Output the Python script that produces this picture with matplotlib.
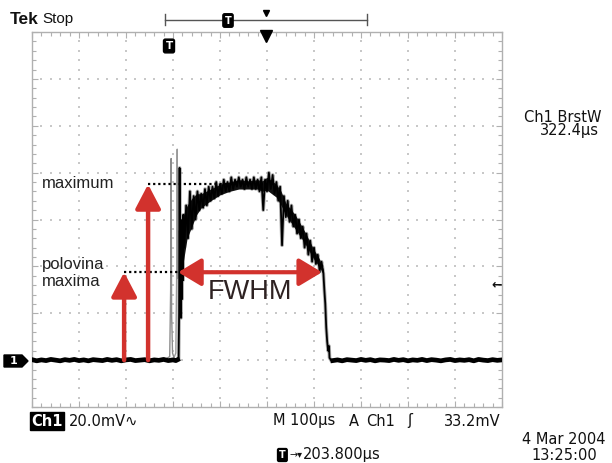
import matplotlib
matplotlib.use("Agg")
import matplotlib.pyplot as plt
from matplotlib.patches import Polygon

# ---------------- data (time in µs, signal in mV above ground) ----------------
base_pre_t = [0, 10, 20, 30, 40, 50, 60, 70, 80, 90, 100, 110, 120, 130, 140,
              150, 160, 170, 180, 190, 200, 210, 220, 230, 240, 250, 260, 270, 280, 290, 300, 306, 310]
base_pre_v = [0.2, -0.3, 0.1, -0.2, 0.3, 0.0, -0.3, 0.2, -0.1, 0.3, -0.2, 0.1, -0.3, 0.2, 0.0,
              -0.2, 0.3, -0.1, 0.2, -0.3, 0.1, 0.3, -0.2, 0.0, 0.2, -0.3, 0.1, -0.1, 0.3, -0.2, 0.1, -0.2, 0.2]

rise_t = [312, 313, 314, 315, 316, 317, 318, 319, 320, 321, 322]
rise_v = [1.0, 20.0, 82.0, 30.0, 45.0, 18.0, 55.0, 26.0, 60.0, 34.0, 62.0]

body_t = [324, 328, 332, 336, 340, 344, 348, 352, 356, 360, 364, 368, 372, 376, 380,
          384, 388, 392, 396, 400, 404, 408, 412, 416, 420, 424, 428, 432, 436, 440,
          444, 448, 452, 456, 460, 464, 468, 472, 476, 480, 484, 488, 492, 496, 500,
          504, 508, 512, 516, 520, 524, 528, 532, 536, 540, 544, 548, 552, 556, 560,
          564, 568, 572, 576, 580, 584, 588, 592, 596, 600, 604, 608, 612, 616, 620,
          622, 624, 626, 628, 630, 632, 633, 636]
body_v = [48, 66, 52, 72, 56, 70, 60, 72, 64, 71, 65, 73, 66, 74, 68,
          74, 69, 76, 70, 75, 71, 77, 72, 76, 72, 78, 73, 77, 74, 78,
          74, 77, 73, 78, 74, 77, 73, 78, 73, 77, 72, 78, 64, 77, 72,
          80, 73, 79, 71, 76, 68, 74, 49, 70, 61, 68, 59, 66, 57, 62,
          54, 60, 52, 57, 48, 54, 45, 51, 42, 48, 41, 45, 38, 42, 37,
          30, 24, 14, 8, 4, 6, 1, 0]

# dense noise band of the trace (upper / lower edge)
band_t = [322, 330, 340, 350, 360, 380, 400, 420, 440, 460, 480, 490, 500, 520, 530,
          540, 560, 580, 600, 612, 620]
band_hi = [62, 66, 69, 71, 71, 73, 75, 76, 77, 76.5, 77, 76.5, 78, 75, 72,
           67, 62, 55, 47, 43, 38.5]
band_lo = [42, 52, 57, 62, 65, 68, 70.5, 72, 73, 73, 73, 72, 72.5, 69.5, 66,
           62, 56, 50, 43, 39.5, 36.5]

base_post_t = [640, 650, 660, 670, 680, 690, 700, 710, 720, 730, 740, 750, 760, 770, 780,
               790, 800, 810, 820, 830, 840, 850, 860, 870, 880, 890, 900, 910, 920, 930,
               940, 950, 960, 970, 980, 990, 1000]
base_post_v = [-0.2, 0.1, -0.3, 0.2, 0.0, -0.2, 0.3, -0.1, 0.2, -0.3, 0.1, 0.0, -0.2, 0.3, -0.1,
               0.2, -0.3, 0.1, -0.1, 0.3, -0.2, 0.2, 0.0, -0.3, 0.1, 0.3, -0.2, 0.1, -0.1, 0.2,
               -0.3, 0.3, 0.0, -0.2, 0.2, -0.1, 0.1]

ghost_a_t = [280, 293, 295, 296, 297, 299, 304]
ghost_a_v = [0.0, 1.5, 30.0, 86.0, 20.0, 3.0, 0.0]
ghost_b_t = [300, 306, 308, 309, 310, 312, 316, 320]
ghost_b_v = [0.0, 3.0, 40.0, 90.0, 35.0, 55.0, 40.0, 62.0]

max_level = 75.0
half_level = max_level / 2
arrow_half_t = 196
arrow_max_t = 247
max_line_end_t = 517
fwhm_start_t = 311
fwhm_end_t = 617

RED = "#d2322d"

fig = plt.figure(figsize=(6.12, 4.63), dpi=100)
fig.patch.set_facecolor("white")

ax = fig.add_axes([32 / 612, 56 / 463, 470 / 612, 375 / 463])
ax.set_xlim(0, 1000)
ax.set_ylim(-20, 140)

# graticule frame and border ticks
for s in ax.spines.values():
    s.set_color("#b0b0b0")
    s.set_linewidth(1.0)
ax.set_xticks(range(0, 1001, 100))
ax.set_xticks(range(0, 1001, 20), minor=True)
ax.set_yticks(range(-20, 141, 20))
ax.set_yticks(range(-20, 141, 4), minor=True)
ax.tick_params(which="both", direction="in", top=True, right=True,
               labelbottom=False, labelleft=False, color="#b0b0b0", width=0.8)
ax.tick_params(which="major", length=4)
ax.tick_params(which="minor", length=3)

# dotted grid
gx, gy = [], []
for xv in range(100, 1000, 100):
    for yv in range(-16, 140, 4):
        gx.append(xv); gy.append(yv)
for yv in range(0, 140, 20):
    for xv in range(20, 1000, 20):
        gx.append(xv); gy.append(yv)
ax.scatter(gx, gy, s=1.2, marker="s", color="#c8c8c8", linewidths=0, zorder=1)

# trace
ax.plot(ghost_a_t, ghost_a_v, color="#8c8c8c", lw=1.0, zorder=2)
ax.plot(ghost_b_t, ghost_b_v, color="#9a9a9a", lw=1.0, zorder=2)
body_all_t = rise_t + body_t
body_all_v = rise_v + body_v
ax.plot(body_all_t, body_all_v, color="#7a7a7a", lw=2.6, zorder=2, alpha=0.6)
ax.fill_between(band_t, band_lo, band_hi, color="#111111", lw=0, zorder=3)
ax.plot(base_pre_t, base_pre_v, color="black", lw=3.4, zorder=3)
ax.plot(base_post_t, base_post_v, color="black", lw=3.4, zorder=3)
ax.plot([base_pre_t[-1]] + body_all_t + [base_post_t[0]],
        [base_pre_v[-1]] + body_all_v + [base_post_v[0]], color="black", lw=1.3,
        zorder=3, solid_joinstyle="round")

# dotted level lines
ax.plot([arrow_max_t, max_line_end_t], [max_level, max_level], color="black",
        lw=1.6, ls=(0, (1, 1.3)), zorder=4)
ax.plot([arrow_half_t, fwhm_end_t], [half_level, half_level], color="black",
        lw=1.6, ls=(0, (1, 1.3)), zorder=4)

# red arrows
ax.annotate("", xy=(arrow_half_t, half_level), xytext=(arrow_half_t, 0),
            arrowprops=dict(arrowstyle="-|>,head_length=1.05,head_width=0.55", lw=3.2,
                            color=RED, shrinkA=0, shrinkB=0, mutation_scale=14),
            zorder=5)
ax.annotate("", xy=(arrow_max_t, max_level), xytext=(arrow_max_t, 0),
            arrowprops=dict(arrowstyle="-|>,head_length=1.05,head_width=0.55", lw=3.2,
                            color=RED, shrinkA=0, shrinkB=0, mutation_scale=14),
            zorder=5)
ax.annotate("", xy=(fwhm_end_t, half_level), xytext=(fwhm_start_t, half_level),
            arrowprops=dict(arrowstyle="<|-|>,head_length=1.0,head_width=0.6", lw=3.0,
                            color=RED, shrinkA=0, shrinkB=0, mutation_scale=14),
            zorder=5)

ax.text(464, 29, "FWHM", fontsize=19.5, family="Liberation Sans", color="#2e2222",
        ha="center", va="center", zorder=6)
ax.text(21, 75.5, "maximum", fontsize=12, family="Liberation Sans",
        color="#222222", ha="left", va="center", zorder=6)
ax.text(21, 41, "polovina", fontsize=12, family="Liberation Sans",
        color="#222222", ha="left", va="center", zorder=6)
ax.text(21, 33.5, "maxima", fontsize=12, family="Liberation Sans",
        color="#222222", ha="left", va="center", zorder=6)

# ---------------- overlay for scope annotations (pixel coords) ----------------
ov = fig.add_axes([0, 0, 1, 1], zorder=10)
ov.set_xlim(0, 612)
ov.set_ylim(463, 0)
ov.axis("off")
ov.patch.set_alpha(0)

F = "DejaVu Sans"
TC = "#111111"
FS = 10.5
ov.text(10, 20, "Tek", fontsize=12.5, weight="bold", family="Liberation Sans",
        color=TC, va="center", ha="left")
ov.text(42, 19, "Stop", fontsize=11, family="Liberation Sans", color=TC,
        va="center", ha="left")

# record bracket
ov.plot([165, 367], [19.5, 19.5], color="#555555", lw=1.0)
ov.plot([165, 165], [14, 25], color="#555555", lw=1.0)
ov.plot([367, 367], [14, 25], color="#555555", lw=1.0)
ov.text(228, 20.5, "T", fontsize=7, weight="bold", color="white", ha="center",
        va="center", family=F,
        bbox=dict(boxstyle="round,pad=0.18", fc="black", ec="black"))
ov.plot([266], [13], marker="v", color="black", ms=4.5)
ov.plot([266], [35.5], marker="v", color="black", ms=8)
ov.text(169, 46, "T", fontsize=7.5, weight="bold", color="white", ha="center",
        va="center", family=F,
        bbox=dict(boxstyle="round,pad=0.18", fc="black", ec="black"))

# ground marker
ov.add_patch(Polygon([(4, 355), (22, 355), (28, 361), (22, 367), (4, 367)],
                     closed=True, fc="black", ec="black"))
ov.text(14, 361, "1", fontsize=8, weight="bold", color="white", ha="center",
        va="center", family=F)

# trigger level arrow
ov.text(502, 285, "←", fontsize=9, weight="bold", color=TC, ha="right", va="center",
        family=F)

# right readout
ov.text(601, 117, "Ch1 BrstW", fontsize=FS, color=TC, ha="right", va="center", family=F)
ov.text(599, 131, "322.4µs", fontsize=FS, color=TC, ha="right", va="center", family=F)

# bottom readouts
ov.text(31, 421, "Ch1", fontsize=FS, weight="bold", color="white", ha="left",
        va="center", family=F,
        bbox=dict(boxstyle="square,pad=0.1", fc="black", ec="black"))
ov.text(69, 421, "20.0mV∿", fontsize=FS, color=TC, ha="left", va="center", family=F)
ov.text(273, 421, "M 100µs", fontsize=FS, color=TC, ha="left", va="center", family=F)
ov.text(349, 421, "A", fontsize=FS, color=TC, ha="left", va="center", family=F)
ov.text(366, 421, "Ch1", fontsize=FS, color=TC, ha="left", va="center", family=F)
ov.text(407, 421, "ʃ", fontsize=FS, color=TC, ha="left", va="center", family=F)
ov.text(501, 421, "33.2mV", fontsize=FS, color=TC, ha="right", va="center", family=F)
ov.text(605, 439, "4 Mar 2004", fontsize=FS, color=TC, ha="right", va="center", family=F)
ov.text(531, 455, "13:25:00", fontsize=FS, color=TC, ha="left", va="center", family=F)
ov.text(279, 455, "T", fontsize=7, weight="bold", color="white", ha="left",
        va="center", family=F,
        bbox=dict(boxstyle="round,pad=0.15", fc="black", ec="black"))
ov.text(289, 455, "→▾", fontsize=7, color=TC, ha="left", va="center", family=F)
ov.text(303, 455, "203.800µs", fontsize=FS, color=TC, ha="left", va="center", family=F)

fig.savefig("out.png", dpi=100, facecolor="white")
